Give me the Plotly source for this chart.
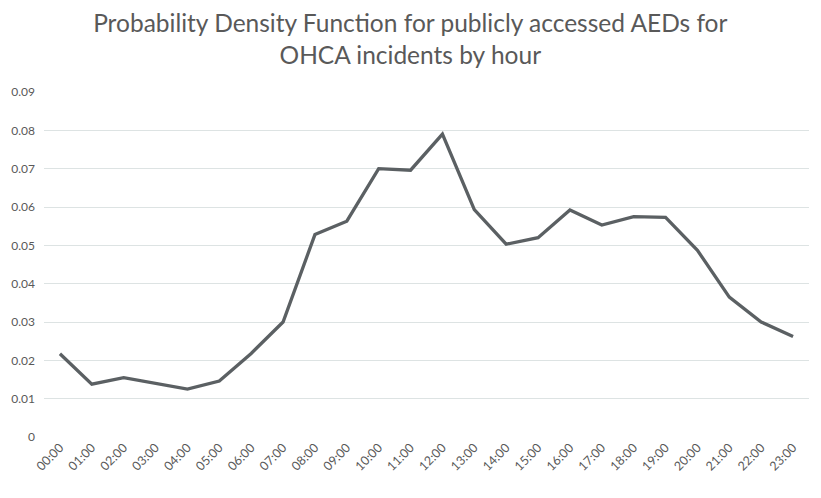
import plotly.graph_objects as go

hours = [f"{h:02d}:00" for h in range(24)]
density = [0.0217, 0.0138, 0.0155, 0.0139, 0.0125, 0.0146, 0.0218, 0.0300,
           0.0528, 0.0563, 0.0700, 0.0696, 0.0790, 0.0593, 0.0503, 0.0520,
           0.0592, 0.0553, 0.0575, 0.0573, 0.0487, 0.0365, 0.0300, 0.0262]
y_ticks = [0, 0.01, 0.02, 0.03, 0.04, 0.05, 0.06, 0.07, 0.08, 0.09]
y_tick_text = ["0", "0.01", "0.02", "0.03", "0.04", "0.05", "0.06", "0.07", "0.08", "0.09"]

fig = go.Figure()
fig.add_trace(go.Scatter(x=hours, y=density, mode="lines",
                         line=dict(color="#5b6063", width=3.3)))

fig.update_layout(
    width=821, height=498,
    margin=dict(l=36, r=20, t=84, b=69, autoexpand=False),
    paper_bgcolor="white", plot_bgcolor="white",
    showlegend=False,
    font=dict(family="Lato", color="#595959"),
    title=dict(text="Probability Density Function for publicly accessed AEDs for<br>OHCA incidents by hour",
               x=0.49, xanchor="center", y=0.952, yanchor="middle",
               font=dict(family="Lato", size=24.5, color="#595959")),
    xaxis=dict(type="category", range=[-0.5, 23.5], tickangle=-45,
               showgrid=False, showline=False, ticks="", automargin=False,
               tickfont=dict(size=12.5, color="#595959")),
    yaxis=dict(range=[0, 0.09], tickvals=y_ticks, ticktext=y_tick_text,
               showgrid=True, gridcolor="#dde3e3", gridwidth=1,
               zeroline=False, showline=False, ticks="", automargin=False,
               ticklabelstandoff=8,
               tickfont=dict(size=12, color="#595959")),
)
fig.write_html("out.html")
